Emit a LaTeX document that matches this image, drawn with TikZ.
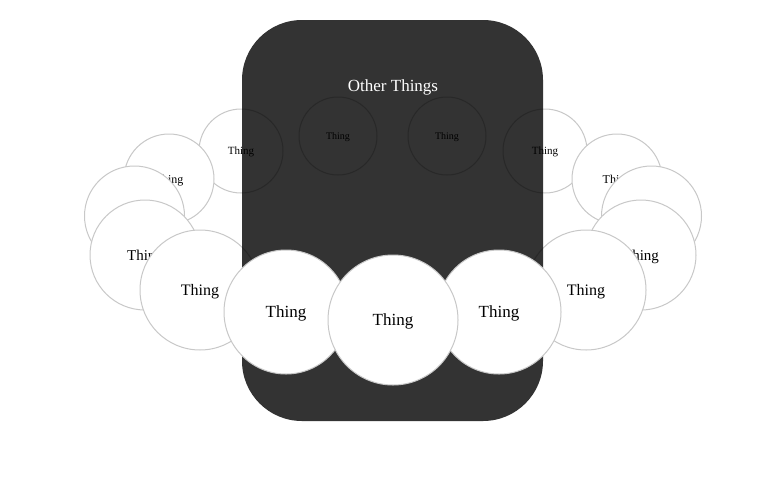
\documentclass[tikz,border=0pt]{standalone}
\usepackage{fontspec}
\setmainfont{Liberation Serif}
\definecolor{ringgray}{HTML}{C8C8C8}
\tikzset{
  thing/.style={circle, fill=white, draw=ringgray, line width=1pt, inner sep=0pt, text=black, text depth=0pt},
  fs/.style={font=\fontsize{#1}{#1}\selectfont},
  darkbox/.style={fill=black, fill opacity=0.8, draw=none, rounded corners=60pt, inner sep=0pt,
    minimum width=301pt, minimum height=401pt},
}
\begin{document}
\begin{tikzpicture}[x=1pt,y=-1pt]
\useasboundingbox (0,0) rectangle (770,479);
% back row (under the box)
\node[thing, minimum size=78pt, fs=10] (n) at (338,136) {Thing};
\node[thing, minimum size=78pt, fs=10] (o) at (447,136) {Thing};
\node[thing, minimum size=84pt, fs=11] (a) at (241,151) {Thing};
\node[thing, minimum size=84pt, fs=11] (m) at (545,151) {Thing};
\node[thing, minimum size=90pt, fs=12] (b) at (169,179) {Thing};
\node[thing, minimum size=90pt, fs=12] (l) at (617,179) {Thing};
\node[thing, minimum size=100pt, fs=14] (c) at (134.5,216) {Thing};
\node[thing, minimum size=100pt, fs=14] (k) at (651.5,216) {Thing};
\node[thing, minimum size=110pt, fs=15] (d) at (145,255) {Thing};
\node[thing, minimum size=110pt, fs=15] (j) at (641,255) {Thing};
\node[thing, minimum size=120pt, fs=16] (e) at (200,290) {Thing};
\node[thing, minimum size=120pt, fs=16] (i) at (586,290) {Thing};
% dark box
\node[darkbox] (box) at (392.5,220.5) {};
\node[text=white, fs=17, text depth=0pt] (title) at (393,86) {Other Things};
% front row
\node[thing, minimum size=124pt, fs=17] (f) at (286,312) {Thing};
\node[thing, minimum size=124pt, fs=17] (h) at (499,312) {Thing};
\node[thing, minimum size=130pt, fs=17] (g) at (393,320) {Thing};
\end{tikzpicture}
\end{document}
